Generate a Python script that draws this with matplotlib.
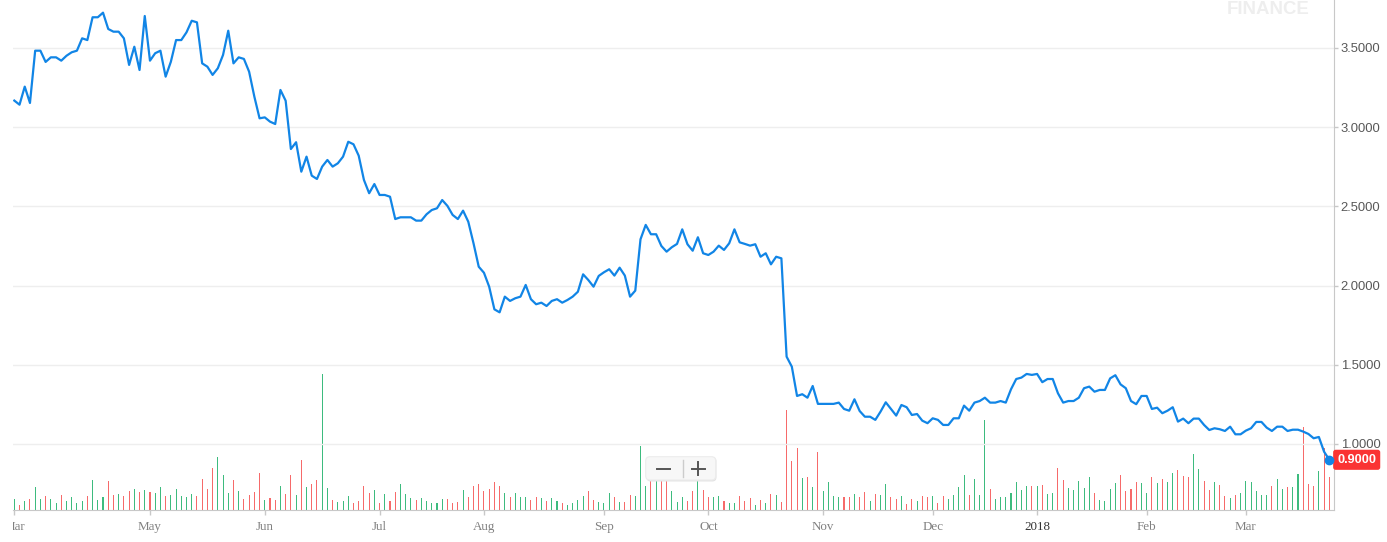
import matplotlib
matplotlib.use("Agg")
import matplotlib.pyplot as plt
from matplotlib.patches import FancyBboxPatch
from matplotlib.lines import Line2D
from matplotlib.transforms import Bbox, TransformedBbox

# ---------------- data ----------------
price = [3.168, 3.142, 3.256, 3.153, 3.483, 3.483, 3.412, 3.441, 3.441, 3.420,
         3.451, 3.473, 3.483, 3.561, 3.550, 3.694, 3.694, 3.723, 3.620, 3.603,
         3.603, 3.561, 3.393, 3.508, 3.361, 3.702, 3.420, 3.467, 3.483, 3.319,
         3.413, 3.550, 3.550, 3.599, 3.672, 3.662, 3.403, 3.382, 3.330, 3.372,
         3.456, 3.609, 3.403, 3.441, 3.431, 3.350, 3.193, 3.056, 3.062, 3.035,
         3.020, 3.235, 3.167, 2.862, 2.905, 2.719, 2.814, 2.694, 2.673, 2.751,
         2.793, 2.751, 2.772, 2.814, 2.908, 2.892, 2.820, 2.667, 2.583, 2.641,
         2.572, 2.572, 2.561, 2.420, 2.431, 2.431, 2.431, 2.410, 2.410, 2.450,
         2.477, 2.488, 2.540, 2.503, 2.446, 2.420, 2.473, 2.403, 2.267, 2.119,
         2.081, 1.993, 1.850, 1.831, 1.930, 1.903, 1.920, 1.930, 2.004, 1.914,
         1.882, 1.892, 1.871, 1.903, 1.914, 1.892, 1.909, 1.930, 1.961, 2.071,
         2.035, 1.993, 2.061, 2.084, 2.103, 2.063, 2.113, 2.063, 1.930, 1.968,
         2.292, 2.383, 2.324, 2.324, 2.250, 2.214, 2.242, 2.263, 2.355, 2.261,
         2.220, 2.305, 2.204, 2.193, 2.214, 2.252, 2.225, 2.267, 2.355, 2.273,
         2.263, 2.252, 2.261, 2.182, 2.204, 2.134, 2.182, 2.172, 1.551, 1.488,
         1.303, 1.314, 1.292, 1.366, 1.253, 1.253, 1.253, 1.253, 1.261, 1.221,
         1.210, 1.282, 1.208, 1.172, 1.172, 1.152, 1.204, 1.263, 1.221, 1.179,
         1.246, 1.232, 1.183, 1.189, 1.147, 1.131, 1.162, 1.152, 1.120, 1.120,
         1.162, 1.162, 1.242, 1.210, 1.261, 1.271, 1.292, 1.261, 1.261, 1.271,
         1.261, 1.345, 1.410, 1.419, 1.442, 1.436, 1.442, 1.390, 1.410, 1.410,
         1.320, 1.261, 1.271, 1.271, 1.292, 1.352, 1.362, 1.330, 1.341, 1.341,
         1.414, 1.434, 1.376, 1.352, 1.271, 1.251, 1.303, 1.303, 1.221, 1.229,
         1.194, 1.210, 1.232, 1.141, 1.160, 1.131, 1.160, 1.160, 1.120, 1.088,
         1.099, 1.093, 1.082, 1.109, 1.061, 1.061, 1.084, 1.099, 1.139, 1.139,
         1.103, 1.082, 1.109, 1.109, 1.082, 1.090, 1.090, 1.078, 1.063, 1.036,
         1.044, 0.951, 0.900]

volume = [34, 16, 28, 34, 68, 34, 43, 34, 22, 46,
          28, 40, 22, 28, 43, 91, 31, 40, 88, 46,
          49, 43, 58, 64, 55, 61, 55, 52, 70, 43,
          46, 64, 43, 40, 49, 43, 94, 64, 127, 160,
          106, 52, 91, 58, 34, 46, 55, 112, 31, 37,
          31, 73, 49, 106, 46, 151, 70, 79, 91, 409,
          67, 31, 25, 28, 43, 22, 28, 73, 52, 61,
          22, 49, 28, 55, 79, 49, 37, 31, 37, 28,
          22, 22, 34, 34, 22, 25, 60, 40, 72, 78,
          58, 64, 85, 72, 52, 40, 52, 40, 40, 30,
          40, 37, 28, 37, 28, 22, 15, 22, 30, 43,
          58, 30, 25, 22, 52, 40, 25, 25, 45, 43,
          193, 72, 110, 115, 100, 105, 58, 25, 40, 28,
          58, 95, 61, 40, 40, 43, 28, 22, 22, 43,
          28, 35, 15, 30, 22, 49, 45, 25, 300, 148,
          187, 97, 100, 70, 175, 58, 85, 43, 40, 40,
          40, 49, 40, 55, 28, 49, 45, 79, 40, 34,
          43, 18, 34, 28, 42, 40, 42, 22, 42, 34,
          45, 70, 105, 45, 93, 45, 270, 64, 34, 40,
          40, 51, 85, 60, 72, 72, 72, 75, 49, 51,
          127, 91, 66, 60, 87, 66, 99, 51, 30, 28,
          64, 81, 105, 58, 64, 85, 81, 51, 100, 81,
          94, 85, 111, 120, 103, 100, 169, 123, 88, 60,
          85, 75, 42, 37, 45, 51, 88, 85, 58, 45,
          45, 72, 94, 64, 70, 68, 108, 250, 78, 72,
          118, 187, 100]

# g = up day, r = down day
direction = ("grgrggrggr" "ggggrgggrr" "grrgrgrggr" "gggggrrrrg"
             "ggrgrrrrgr" "rgrrgrgrrg" "grgggrrrrg" "rgrrgggrgg"
             "gggrrrgrrr" "rrrrgrgggr" "rgrggrgggg" "rrgggrgrrg"
             "ggrgrrgggr" "rgrrggrggr" "rrgrgrgrrr" "rgrgrggggr"
             "rgrrgrggrr" "grrgrrgrrg" "gggrgggrgg" "gggggrgrgg"
             "rrgggggrgg" "ggrrrrggrg" "rggrrrggrr" "grrgrggggg"
             "grggrggrrr" "grr")

month_ticks = [0, 26, 48, 70, 90, 113, 133, 155, 176, 196, 217, 236]
month_labels = ["Mar", "May", "Jun", "Jul", "Aug", "Sep", "Oct", "Nov",
                "Dec", "2018", "Feb", "Mar"]
y_ticks = [1.0, 1.5, 2.0, 2.5, 3.0, 3.5]

n = len(price)
idx = list(range(n))

# ---------------- figure ----------------
W, H = 1387, 542
fig = plt.figure(figsize=(W / 100, H / 100), dpi=100)
fig.patch.set_facecolor("white")

L, R = 13 / W, 1334 / W
B, T = (H - 510) / H, 1.0
axv = fig.add_axes([L, B, R - L, T - B])
ax = axv.twinx()
ax.set_zorder(axv.get_zorder() + 1)
ax.patch.set_visible(False)

GREEN = "#3dbb7e"
RED = "#f66a6a"
colors = [GREEN if d == "g" else RED for d in direction[:n]]
axv.bar(idx, volume[:n], width=0.2, color=colors, linewidth=0,
        antialiased=False)
axv.set_ylim(0, 1530)
axv.set_xlim(-0.25, 252.9)
axv.set_yticks([])

LINE = "#1185e6"
ax.plot(idx, price, color=LINE, lw=1.6, solid_joinstyle="round", zorder=3)
ax.plot([idx[-1]], [price[-1]], "o", ms=6, color=LINE, zorder=4, clip_on=False)
ax.set_ylim(0.583, 3.803)
ax.set_xlim(-0.25, 252.9)
ax.set_yticks(y_ticks)
ax.set_yticklabels([f"{v:.4f}" for v in y_ticks])
ax.yaxis.grid(True, color="#eeeeee", lw=1)
ax.set_axisbelow(True)

for a in (ax, axv):
    for s in ("left", "top"):
        a.spines[s].set_visible(False)
ax.spines["bottom"].set_visible(False)
axv.spines["right"].set_visible(False)
ax.spines["right"].set_color("#c8c8c8")
axv.spines["bottom"].set_color("#c8c8c8")

ax.tick_params(axis="y", right=True, left=False, length=3, width=1,
               color="#c8c8c8", pad=1.8, labelsize=9.4, labelcolor="#585858")
for lab in ax.get_yticklabels():
    lab.set_family("Liberation Sans")

axv.set_xticks(month_ticks)
axv.set_xticklabels(month_labels)
axv.tick_params(axis="x", length=3.6, width=1, color="#c8c8c8", pad=4.2,
                labelsize=9.4, labelcolor="#808080")
clipbox = TransformedBbox(Bbox.from_extents(L, 0, 1, 1), fig.transFigure)
for lab, txt in zip(axv.get_xticklabels(), month_labels):
    lab.set_family("Liberation Serif")
    lab.set_clip_on(True)
    lab.set_clip_box(clipbox)
    if txt == "2018":
        lab.set_color("#333333")

# last-value label
ax.annotate(f"{price[-1]:.4f}", xy=(1, price[-1]),
            xycoords=("axes fraction", "data"), xytext=(2.3, 0),
            textcoords="offset points", ha="left", va="center",
            color="white", fontsize=9.1, fontweight="bold",
            family="Liberation Sans", annotation_clip=False,
            bbox=dict(boxstyle="round,pad=0.32,rounding_size=0.2",
                      fc="#fa3333", ec="none"))

# watermark
fig.text(1268 / W, 1 - 14 / H, "FINANCE", ha="center", va="baseline",
         fontsize=13.4, fontweight="bold", color="#eeeeee",
         family="Liberation Sans")

# zoom control
def fx(px):
    return px / W

def fy(py):
    return 1 - py / H

shadow = FancyBboxPatch((fx(646.5), fy(481.5)), fx(70), 24.5 / H,
                        boxstyle="round,pad=0,rounding_size=0.003",
                        transform=fig.transFigure, fc="#e4e4e4", ec="none",
                        zorder=9, mutation_aspect=W / H)
fig.patches.append(shadow)
box = FancyBboxPatch((fx(645.7), fy(480)), fx(70), 23.3 / H,
                     boxstyle="round,pad=0,rounding_size=0.003",
                     transform=fig.transFigure, fc="#f7f7f7", ec="#ececec",
                     lw=0.8, zorder=10, mutation_aspect=W / H)
fig.patches.append(box)
fig.lines.append(Line2D([fx(683), fx(683)], [fy(460), fy(477)],
                        transform=fig.transFigure, color="#cccccc", lw=1,
                        zorder=11))
fig.lines.append(Line2D([fx(657), fx(670)], [fy(468.5), fy(468.5)],
                        transform=fig.transFigure, color="#555555", lw=1.4,
                        zorder=11))
fig.lines.append(Line2D([fx(692), fx(704.5)], [fy(468.5), fy(468.5)],
                        transform=fig.transFigure, color="#555555", lw=1.4,
                        zorder=11))
fig.lines.append(Line2D([fx(698.3), fx(698.3)], [fy(462.3), fy(474.8)],
                        transform=fig.transFigure, color="#555555", lw=1.4,
                        zorder=11))

fig.savefig("out.png", dpi=100, facecolor="white")
